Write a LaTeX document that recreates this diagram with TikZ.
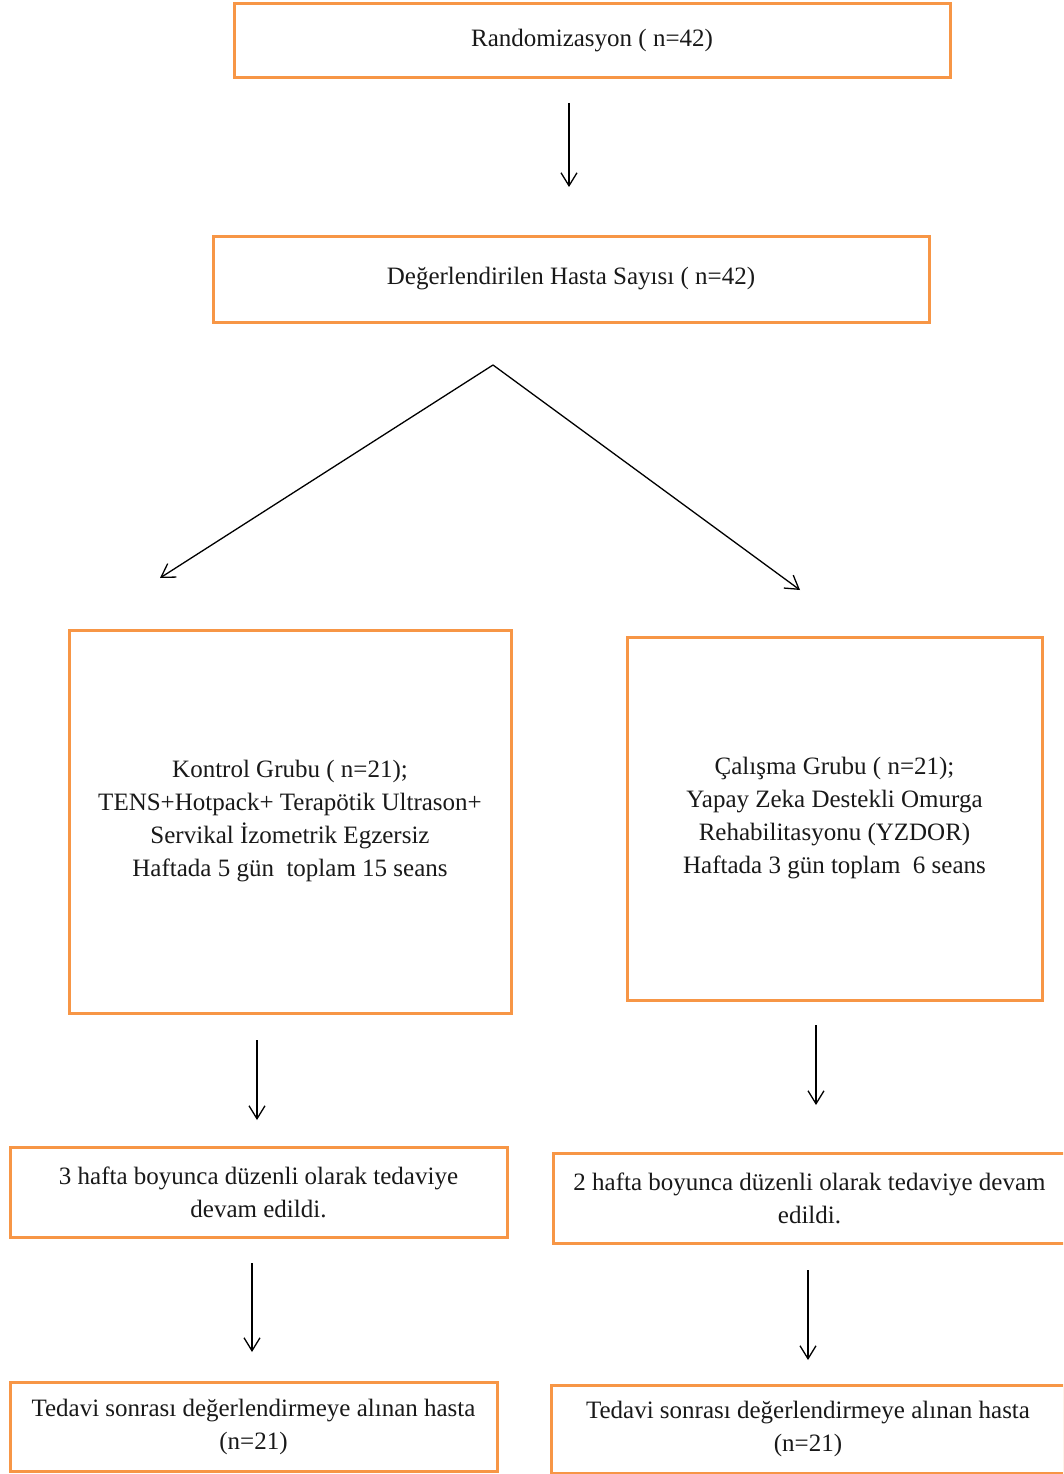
\documentclass[tikz,border=0pt]{standalone}
\usepackage{fontspec}
\setmainfont{Liberation Serif}
\usetikzlibrary{arrows.meta}
\definecolor{boxorange}{HTML}{F79646}
\begin{document}
\begin{tikzpicture}[x=1pt,y=-1pt,
  box/.style={draw=boxorange,line width=3pt,fill=white,inner sep=0pt,align=center,
    font=\fontsize{25}{33}\selectfont,text=black!90},
  conn/.style={line width=1.3pt,-{Straight Barb[length=13pt,width=16pt,line width=1.3pt]}}]
\clip (0,0) rectangle (1063,1474);
\fill[white] (0,0) rectangle (1063,1474);
% boxes
\node[box,minimum width=716pt,minimum height=74pt] (rand) at (592,41) {\raisebox{-3pt}{Randomizasyon ( n=42)}};
\node[box,minimum width=716pt,minimum height=86pt] (deg) at (571,279) {\raisebox{-3pt}{Değerlendirilen Hasta Sayısı ( n=42)}};
\node[box,minimum width=442pt,minimum height=383pt] (kon) at (290,821.5)
  {Kontrol Grubu ( n=21);\\TENS+Hotpack+ Terapötik Ultrason+\\Servikal İzometrik Egzersiz\\Haftada 5 gün~ toplam 15 seans};
\node[box,minimum width=415pt,minimum height=363pt] (cal) at (834.5,818.5)
  {Çalışma Grubu ( n=21);\\Yapay Zeka Destekli Omurga\\Rehabilitasyonu (YZDOR)\\Haftada 3 gün toplam~ 6 seans};
\node[box,minimum width=497pt,minimum height=90pt] (h3) at (258.5,1192)
  {3 hafta boyunca düzenli olarak tedaviye\\devam edildi.};
\node[box,minimum width=513pt,minimum height=90pt] (h2) at (809.5,1198)
  {2 hafta boyunca düzenli olarak tedaviye devam\\edildi.};
\node[box,minimum width=487pt,minimum height=89pt] (tl) at (253.5,1426.5)
  {Tedavi sonrası değerlendirmeye alınan hasta\\(n=21)};
\node[box,minimum width=513pt,minimum height=88pt] (tr) at (808,1429)
  {Tedavi sonrası değerlendirmeye alınan hasta\\(n=21)};
% connector coordinates
\coordinate (a1s) at (569,103);
\coordinate (a1e) at (569,187);
\coordinate (apex) at (493,365);
\coordinate (dl) at (160,578);
\coordinate (dr) at (800,590);
\coordinate (a3s) at (257,1040);
\coordinate (a3e) at (257,1120);
\coordinate (a4s) at (816,1025);
\coordinate (a4e) at (816,1105);
\coordinate (a5s) at (252,1263);
\coordinate (a5e) at (252,1352);
\coordinate (a6s) at (808,1270);
\coordinate (a6e) at (808,1360);
% connectors
\draw[conn] (a1s) -- (a1e);
\draw[conn] (apex) -- (dl);
\draw[conn] (apex) -- (dr);
\draw[conn] (a3s) -- (a3e);
\draw[conn] (a4s) -- (a4e);
\draw[conn] (a5s) -- (a5e);
\draw[conn] (a6s) -- (a6e);
\end{tikzpicture}
\end{document}
